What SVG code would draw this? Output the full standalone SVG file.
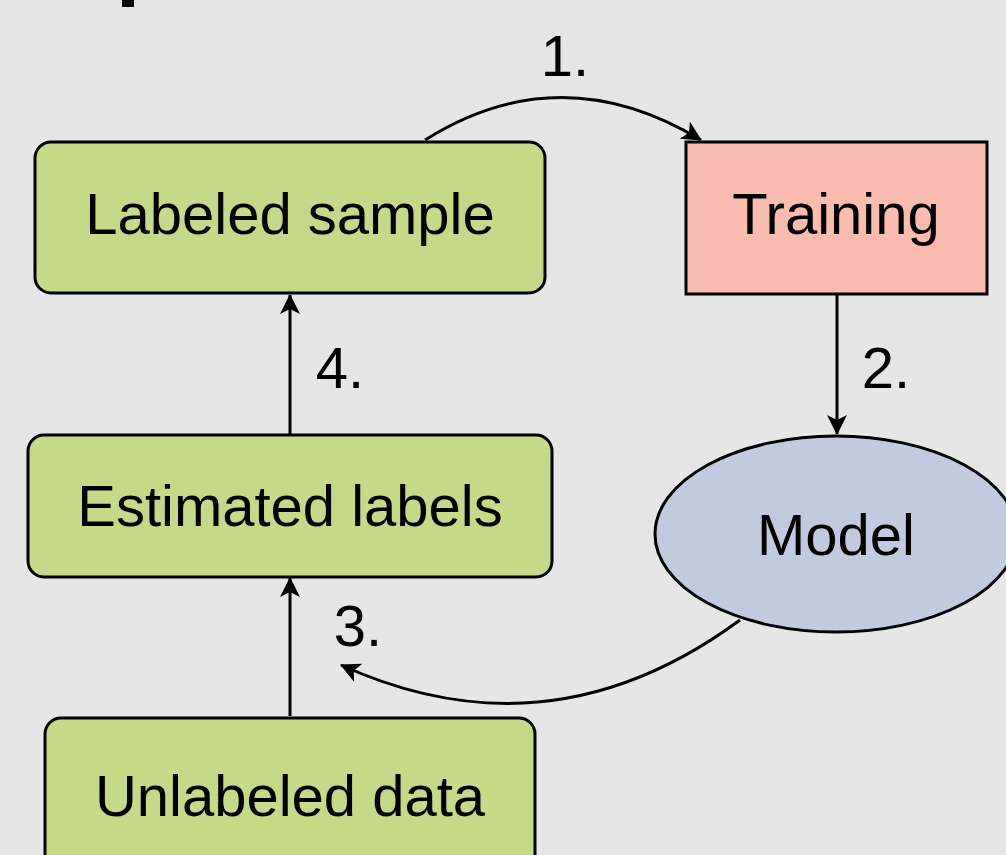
<svg xmlns="http://www.w3.org/2000/svg" width="1006" height="855" viewBox="0 0 1006 855">
  <style>
    .box { fill: #c5da86; stroke: #000; stroke-width: 3; }
    .lbl { font-family: "Liberation Sans", Arial, sans-serif; font-size: 58px; fill: #000; text-anchor: middle; }
    .edge { fill: none; stroke: #000; stroke-width: 3; marker-end: url(#arrow); }
  </style>
  <defs>
    <marker id="arrow" viewBox="0 0 20 20" refX="19" refY="10" markerWidth="20" markerHeight="20" markerUnits="userSpaceOnUse" orient="auto">
      <path d="M0,0 L20,10 L0,20 L5,10 z" fill="#000"/>
    </marker>
  </defs>
  <rect width="1006" height="855" fill="#e6e6e6"/>
  <!-- clipped glyph fragment at the top edge -->
  <rect x="122" y="0" width="12" height="7" fill="#000"/>

  <g id="connectors">
    <path class="edge" d="M425,140 Q560,55 701,140"/>
    <line class="edge" x1="837" y1="295" x2="837" y2="434"/>
    <path class="edge" d="M740,620 Q550,760 341,665"/>
    <line class="edge" x1="290" y1="434" x2="290" y2="295"/>
    <line class="edge" x1="290" y1="716" x2="290" y2="578"/>
  </g>

  <g id="labeled-sample">
    <rect class="box" x="35" y="142" width="510" height="151" rx="16"/>
    <text class="lbl" x="290" y="234">Labeled sample</text>
  </g>
  <g id="training">
    <rect x="686" y="142" width="301" height="152" fill="#f9bcaf" stroke="#000" stroke-width="3"/>
    <text class="lbl" x="836" y="234">Training</text>
  </g>
  <g id="estimated-labels">
    <rect class="box" x="28" y="435" width="524" height="142" rx="16"/>
    <text class="lbl" x="290" y="526">Estimated labels</text>
  </g>
  <g id="model">
    <ellipse cx="836" cy="534" rx="181" ry="98" fill="#c2cadf" stroke="#000" stroke-width="3"/>
    <text class="lbl" x="836" y="555">Model</text>
  </g>
  <g id="unlabeled-data">
    <rect class="box" x="45" y="718" width="490" height="160" rx="16"/>
    <text class="lbl" x="290" y="816">Unlabeled data</text>
  </g>

  <g id="step-labels">
    <text class="lbl" x="565" y="76">1.</text>
    <text class="lbl" x="886" y="388">2.</text>
    <text class="lbl" x="358" y="646">3.</text>
    <text class="lbl" x="340" y="388">4.</text>
  </g>
</svg>
